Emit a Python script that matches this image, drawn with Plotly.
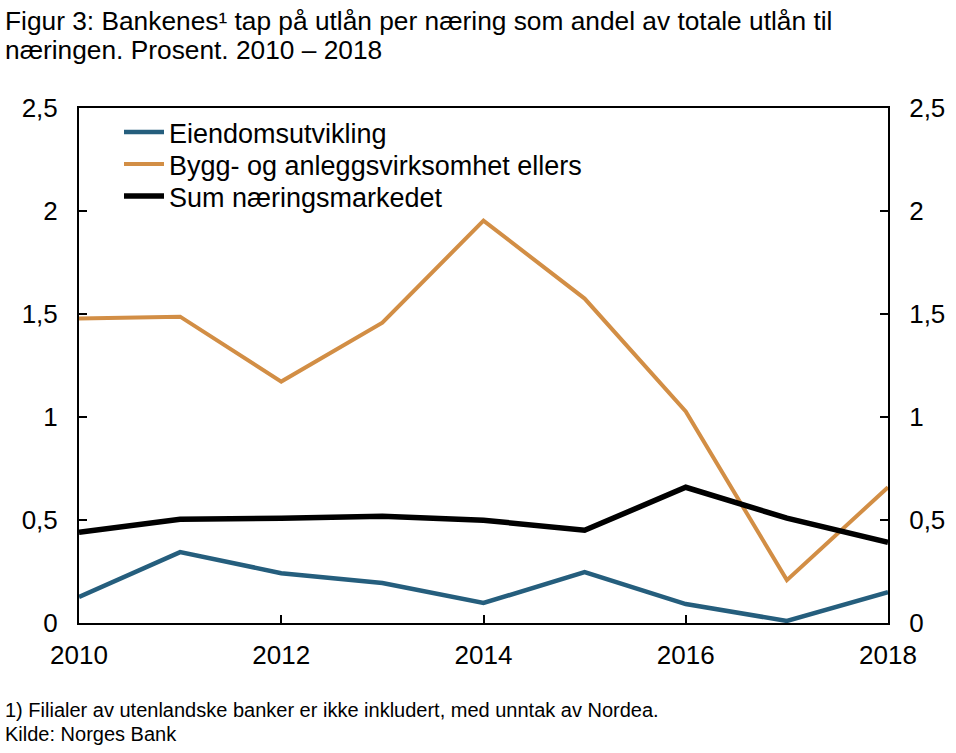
import plotly.graph_objects as go

years = [2010, 2011, 2012, 2013, 2014, 2015, 2016, 2017, 2018]
eiendom = [0.126, 0.344, 0.242, 0.194, 0.097, 0.247, 0.092, 0.010, 0.150]
bygg = [1.478, 1.487, 1.172, 1.458, 1.953, 1.575, 1.027, 0.208, 0.659]
sum_naering = [0.441, 0.504, 0.509, 0.518, 0.499, 0.450, 0.659, 0.509, 0.392]

y_tickvals = [0, 0.5, 1, 1.5, 2, 2.5]
y_ticktext = ["0", "0,5", "1", "1,5", "2", "2,5"]
x_tickvals = [2010, 2012, 2014, 2016, 2018]

FONT = "Liberation Sans, Arial, sans-serif"
W, H = 956, 753
L, R, T, B = 79, 68, 108, 130
PW, PH = W - L - R, H - T - B


def px(xp):
    return (xp - L) / PW


def py(yp):
    return (H - B - yp) / PH


fig = go.Figure()
fig.add_trace(go.Scatter(x=years, y=eiendom, mode="lines", name="Eiendomsutvikling",
                         legend="legend", line=dict(color="#255E7D", width=4.5)))
fig.add_trace(go.Scatter(x=years, y=bygg, mode="lines", name="Bygg- og anleggsvirksomhet ellers",
                         legend="legend2", line=dict(color="#D28E45", width=4)))
fig.add_trace(go.Scatter(x=years, y=sum_naering, mode="lines", name="Sum næringsmarkedet",
                         legend="legend3", line=dict(color="#000000", width=5.5)))
fig.add_trace(go.Scatter(x=years, y=sum_naering, mode="lines", yaxis="y2", showlegend=False,
                         hoverinfo="skip", line=dict(color="rgba(0,0,0,0)", width=0)))

axis_common = dict(ticks="inside", ticklen=8, tickwidth=1.5, tickcolor="black",
                   showline=True, linecolor="black", linewidth=2, showgrid=False,
                   zeroline=False, tickfont=dict(size=26, family=FONT))


def leg(ytop):
    return dict(x=px(119), y=py(ytop), xanchor="left", yanchor="top",
                bgcolor="rgba(0,0,0,0)", font=dict(size=27, family=FONT),
                tracegroupgap=0, itemwidth=40)


fig.update_layout(
    width=W, height=H,
    margin=dict(l=L, r=R, t=T, b=B),
    paper_bgcolor="white", plot_bgcolor="white",
    font=dict(family=FONT, size=26, color="black"),
    showlegend=True,
    legend=leg(108), legend2=leg(140), legend3=leg(172),
    xaxis=dict(range=[2010, 2018], tickvals=x_tickvals, mirror=True,
               ticklabelstandoff=8, **axis_common),
    yaxis=dict(range=[0, 2.5], tickvals=y_tickvals, ticktext=y_ticktext,
               ticklabelstandoff=14, **axis_common),
    yaxis2=dict(range=[0, 2.5], tickvals=y_tickvals, ticktext=y_ticktext,
                overlaying="y", side="right", ticklabelstandoff=14, **axis_common),
    annotations=[
        dict(text="Figur 3: Bankenes¹ tap på utlån per næring som andel av totale utlån til",
             xref="paper", yref="paper", x=px(3), y=py(4), xanchor="left", yanchor="top",
             align="left", showarrow=False, font=dict(size=26.3, family=FONT)),
        dict(text="næringen. Prosent. 2010 – 2018",
             xref="paper", yref="paper", x=px(3), y=py(33), xanchor="left", yanchor="top",
             align="left", showarrow=False, font=dict(size=26.3, family=FONT)),
        dict(text="1) Filialer av utenlandske banker er ikke inkludert, med unntak av Nordea.",
             xref="paper", yref="paper", x=px(3), y=py(697), xanchor="left", yanchor="top",
             align="left", showarrow=False, font=dict(size=20, family=FONT)),
        dict(text="Kilde: Norges Bank",
             xref="paper", yref="paper", x=px(3), y=py(721), xanchor="left", yanchor="top",
             align="left", showarrow=False, font=dict(size=20, family=FONT)),
    ],
)

fig.write_html("out.html", config={"displayModeBar": False},
               post_script="document.body.style.margin='0';document.body.style.overflow='hidden';")
